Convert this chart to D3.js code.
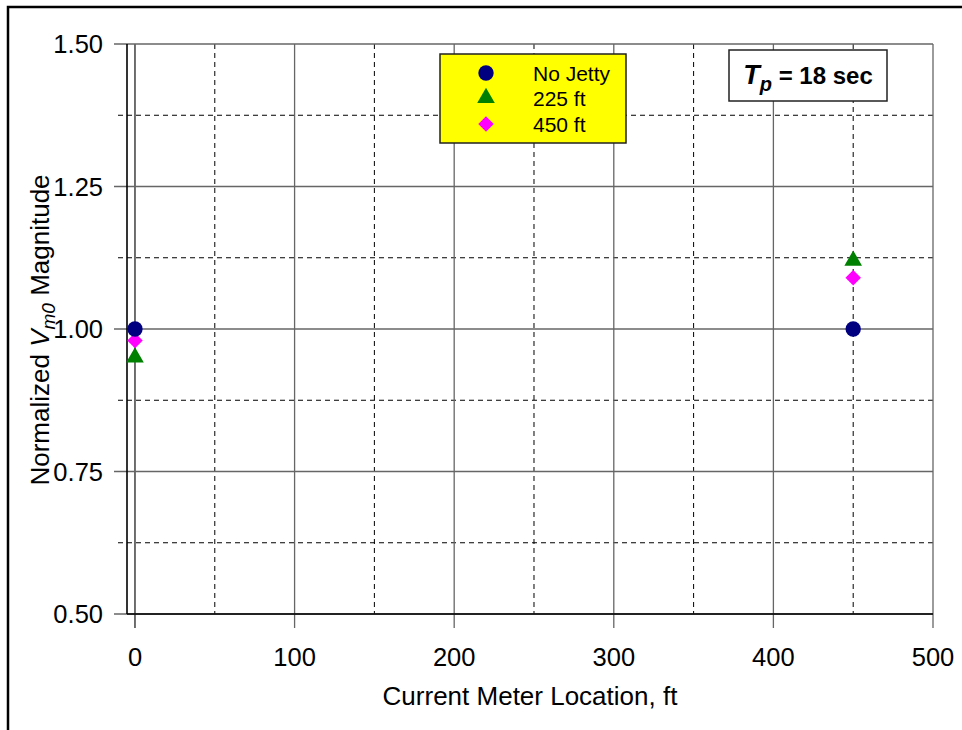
<!DOCTYPE html>
<html>
<head>
<meta charset="utf-8">
<script src="https://cdn.jsdelivr.net/npm/d3@7"></script>
<style>
  html, body { margin: 0; padding: 0; background: #fff; }
  svg { display: block; font-family: Arial, "Liberation Sans", sans-serif; }
</style>
</head>
<body>
<svg id="chart" width="962" height="730"></svg>
<script>
// Meter locations (ft) and normalized Vm0 magnitudes per jetty case
const locations = [0, 450];
const noJetty = [1.00, 1.00];
const jetty225 = [0.95, 1.12];
const jetty450 = [0.98, 1.09];
const seriesNames = ["No Jetty", "225 ft", "450 ft"];

const xMajorTicks = [0, 100, 200, 300, 400, 500];
const xMinorTicks = [50, 150, 250, 350, 450];
const yMajorTicks = [0.50, 0.75, 1.00, 1.25, 1.50];
const yMinorTicks = [0.625, 0.875, 1.125, 1.375];

const svg = d3.select("#chart");

// outer frame
svg.append("rect").attr("x", 8).attr("y", 7).attr("width", 1000).attr("height", 800)
  .attr("fill", "none").attr("stroke", "#000").attr("stroke-width", 2.5);

const plotL = 127, plotR = 933, plotT = 44, plotB = 614;
const x = d3.scaleLinear().domain([-5, 500]).range([plotL, plotR]);
const y = d3.scaleLinear().domain([0.5, 1.5]).range([plotB, plotT]);

const g = svg.append("g");

// dashed minor grid
g.selectAll(".vminor").data(xMinorTicks).join("line")
  .attr("x1", d => x(d)).attr("x2", d => x(d)).attr("y1", plotT).attr("y2", plotB)
  .attr("stroke", "#000").attr("stroke-width", 1).attr("stroke-dasharray", "5,4");
g.selectAll(".hminor").data(yMinorTicks).join("line")
  .attr("x1", plotL - 9).attr("x2", plotR).attr("y1", d => y(d)).attr("y2", d => y(d))
  .attr("stroke", "#000").attr("stroke-width", 1).attr("stroke-dasharray", "5,4");

// solid major grid
g.selectAll(".vmajor").data(xMajorTicks).join("line")
  .attr("x1", d => x(d)).attr("x2", d => x(d)).attr("y1", plotT).attr("y2", plotB + 14)
  .attr("stroke", d => d === 0 ? "#222" : "#666").attr("stroke-width", 1.3);
g.selectAll(".hmajor").data(yMajorTicks).join("line")
  .attr("x1", plotL - 13).attr("x2", plotR).attr("y1", d => y(d)).attr("y2", d => y(d))
  .attr("stroke", "#666").attr("stroke-width", 1.3);

// axis lines
g.append("line").attr("x1", plotL).attr("x2", plotL).attr("y1", plotT).attr("y2", plotB)
  .attr("stroke", "#000").attr("stroke-width", 1.6);
g.append("line").attr("x1", plotL).attr("x2", plotR).attr("y1", plotB).attr("y2", plotB)
  .attr("stroke", "#000").attr("stroke-width", 1.6);

// tick labels
g.selectAll(".ylab").data(yMajorTicks).join("text")
  .attr("x", 103).attr("y", d => y(d) + 9).attr("text-anchor", "end")
  .attr("font-size", 25.5).attr("fill", "#000").text(d => d.toFixed(2));
g.selectAll(".xlab").data(xMajorTicks).join("text")
  .attr("x", d => x(d)).attr("y", 666).attr("text-anchor", "middle")
  .attr("font-size", 25.5).attr("fill", "#000").text(d => d);

// axis titles
svg.append("text").attr("x", 530).attr("y", 705).attr("text-anchor", "middle")
  .attr("font-size", 26).text("Current Meter Location, ft");
const yt = svg.append("text").attr("transform", "translate(49,330) rotate(-90)")
  .attr("text-anchor", "middle").attr("font-size", 26);
yt.append("tspan").text("Normalized ");
yt.append("tspan").attr("font-style", "italic").text("V");
yt.append("tspan").attr("font-style", "italic").attr("font-size", 19).attr("dy", 6).text("m0");
yt.append("tspan").attr("dy", -6).text(" Magnitude");

// marker shapes: circle, triangle and a square turned on its corner
const diamond = { draw(ctx, size) { const r = Math.sqrt(size / 2); ctx.moveTo(0, -r); ctx.lineTo(r, 0); ctx.lineTo(0, r); ctx.lineTo(-r, 0); ctx.closePath(); } };
const shapes = [d3.symbolCircle, d3.symbolTriangle, diamond];
const colors = ["#000080", "#008000", "#ff00ff"];
const sizes = [185, 135, 120];
const allSeries = [noJetty, jetty225, jetty450];
const pts = svg.append("g");
// the circle is drawn last so it sits on top at shared points
[1, 2, 0].forEach(i => {
  pts.selectAll(".s" + i).data(allSeries[i].map((v, j) => ({ x: locations[j], y: v }))).join("path")
    .attr("transform", d => `translate(${x(d.x)},${y(d.y)})`)
    .attr("d", d3.symbol().type(shapes[i]).size(sizes[i]))
    .attr("fill", colors[i]);
});

// legend
const lg = svg.append("g");
lg.append("rect").attr("x", 440).attr("y", 54).attr("width", 186).attr("height", 89)
  .attr("fill", "#ffff00").attr("stroke", "#222").attr("stroke-width", 1.5);
const rowY = [73, 98, 124];
seriesNames.forEach((name, i) => {
  lg.append("path").attr("transform", `translate(486,${rowY[i]})`)
    .attr("d", d3.symbol().type(shapes[i]).size(sizes[i])).attr("fill", colors[i]);
  lg.append("text").attr("x", 533).attr("y", rowY[i] + 7.5).attr("font-size", 21).text(name);
});

// wave period label
const tb = svg.append("g");
tb.append("rect").attr("x", 729).attr("y", 50).attr("width", 158).attr("height", 51)
  .attr("fill", "#fff").attr("stroke", "#222").attr("stroke-width", 1.5);
const tt = tb.append("text").attr("x", 808).attr("y", 84).attr("text-anchor", "middle")
  .attr("font-size", 24).attr("font-weight", "bold");
tt.append("tspan").attr("font-style", "italic").attr("font-size", 27).text("T");
tt.append("tspan").attr("font-style", "italic").attr("font-size", 20).attr("dy", 7).text("p");
tt.append("tspan").attr("dy", -7).text(" = 18 sec");
</script>
</body>
</html>
